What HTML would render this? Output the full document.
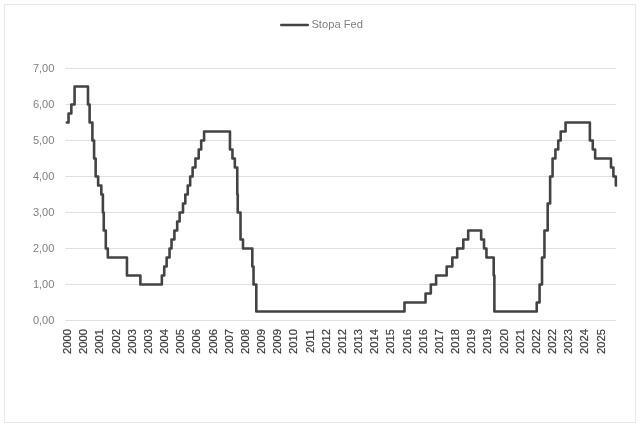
<!DOCTYPE html>
<html lang="pl"><head><meta charset="utf-8"><title>Stopa Fed</title>
<style>
html,body{margin:0;padding:0;background:#fff;}
body{width:640px;height:428px;overflow:hidden;}
svg{display:block;}
text{font-family:"Liberation Sans",sans-serif;}
.yl{font-size:10.4px;fill:#7f7f7f;text-anchor:end;}
.xl{font-size:11.5px;fill:#3c3c3c;stroke:#3c3c3c;stroke-width:0.2px;text-anchor:end;}
.lg{font-size:10.8px;fill:#7f7f7f;}
</style></head><body>
<svg width="640" height="428" viewBox="0 0 640 428">
<rect x="0" y="0" width="640" height="428" fill="#ffffff"/>
<rect x="4.5" y="4.5" width="631" height="418" fill="#ffffff" stroke="#e8e8e8" stroke-width="1"/>
<line x1="65.5" y1="68.5" x2="616" y2="68.5" stroke="#e0e0e0" stroke-width="1"/>
<line x1="65.5" y1="104.5" x2="616" y2="104.5" stroke="#e0e0e0" stroke-width="1"/>
<line x1="65.5" y1="140.5" x2="616" y2="140.5" stroke="#e0e0e0" stroke-width="1"/>
<line x1="65.5" y1="176.5" x2="616" y2="176.5" stroke="#e0e0e0" stroke-width="1"/>
<line x1="65.5" y1="212.5" x2="616" y2="212.5" stroke="#e0e0e0" stroke-width="1"/>
<line x1="65.5" y1="248.5" x2="616" y2="248.5" stroke="#e0e0e0" stroke-width="1"/>
<line x1="65.5" y1="284.5" x2="616" y2="284.5" stroke="#e0e0e0" stroke-width="1"/>
<line x1="65.5" y1="320.5" x2="616" y2="320.5" stroke="#e0e0e0" stroke-width="1"/>
<text class="yl" x="54.4" y="72.1" textLength="21.5" lengthAdjust="spacingAndGlyphs">7,00</text>
<text class="yl" x="54.4" y="108.1" textLength="21.5" lengthAdjust="spacingAndGlyphs">6,00</text>
<text class="yl" x="54.4" y="144.1" textLength="21.5" lengthAdjust="spacingAndGlyphs">5,00</text>
<text class="yl" x="54.4" y="180.1" textLength="21.5" lengthAdjust="spacingAndGlyphs">4,00</text>
<text class="yl" x="54.4" y="216.1" textLength="21.5" lengthAdjust="spacingAndGlyphs">3,00</text>
<text class="yl" x="54.4" y="252.1" textLength="21.5" lengthAdjust="spacingAndGlyphs">2,00</text>
<text class="yl" x="54.4" y="288.1" textLength="21.5" lengthAdjust="spacingAndGlyphs">1,00</text>
<text class="yl" x="54.4" y="324.1" textLength="21.5" lengthAdjust="spacingAndGlyphs">0,00</text>
<text class="xl" transform="translate(71.00,329) rotate(-90) scale(0.974,1)">2000</text>
<text class="xl" transform="translate(87.17,329) rotate(-90) scale(0.974,1)">2000</text>
<text class="xl" transform="translate(103.34,329) rotate(-90) scale(0.974,1)">2001</text>
<text class="xl" transform="translate(119.51,329) rotate(-90) scale(0.974,1)">2002</text>
<text class="xl" transform="translate(135.68,329) rotate(-90) scale(0.974,1)">2003</text>
<text class="xl" transform="translate(151.85,329) rotate(-90) scale(0.974,1)">2003</text>
<text class="xl" transform="translate(168.02,329) rotate(-90) scale(0.974,1)">2004</text>
<text class="xl" transform="translate(184.19,329) rotate(-90) scale(0.974,1)">2005</text>
<text class="xl" transform="translate(200.36,329) rotate(-90) scale(0.974,1)">2006</text>
<text class="xl" transform="translate(216.53,329) rotate(-90) scale(0.974,1)">2006</text>
<text class="xl" transform="translate(232.70,329) rotate(-90) scale(0.974,1)">2007</text>
<text class="xl" transform="translate(248.87,329) rotate(-90) scale(0.974,1)">2008</text>
<text class="xl" transform="translate(265.04,329) rotate(-90) scale(0.974,1)">2009</text>
<text class="xl" transform="translate(281.21,329) rotate(-90) scale(0.974,1)">2009</text>
<text class="xl" transform="translate(297.38,329) rotate(-90) scale(0.974,1)">2010</text>
<text class="xl" transform="translate(313.55,329) rotate(-90) scale(0.974,1)">2011</text>
<text class="xl" transform="translate(329.72,329) rotate(-90) scale(0.974,1)">2012</text>
<text class="xl" transform="translate(345.89,329) rotate(-90) scale(0.974,1)">2012</text>
<text class="xl" transform="translate(362.06,329) rotate(-90) scale(0.974,1)">2013</text>
<text class="xl" transform="translate(378.23,329) rotate(-90) scale(0.974,1)">2014</text>
<text class="xl" transform="translate(394.40,329) rotate(-90) scale(0.974,1)">2015</text>
<text class="xl" transform="translate(410.57,329) rotate(-90) scale(0.974,1)">2016</text>
<text class="xl" transform="translate(426.74,329) rotate(-90) scale(0.974,1)">2016</text>
<text class="xl" transform="translate(442.91,329) rotate(-90) scale(0.974,1)">2017</text>
<text class="xl" transform="translate(459.08,329) rotate(-90) scale(0.974,1)">2018</text>
<text class="xl" transform="translate(475.25,329) rotate(-90) scale(0.974,1)">2019</text>
<text class="xl" transform="translate(491.42,329) rotate(-90) scale(0.974,1)">2019</text>
<text class="xl" transform="translate(507.59,329) rotate(-90) scale(0.974,1)">2020</text>
<text class="xl" transform="translate(523.76,329) rotate(-90) scale(0.974,1)">2021</text>
<text class="xl" transform="translate(539.93,329) rotate(-90) scale(0.974,1)">2022</text>
<text class="xl" transform="translate(556.10,329) rotate(-90) scale(0.974,1)">2022</text>
<text class="xl" transform="translate(572.27,329) rotate(-90) scale(0.974,1)">2023</text>
<text class="xl" transform="translate(588.44,329) rotate(-90) scale(0.974,1)">2024</text>
<text class="xl" transform="translate(604.61,329) rotate(-90) scale(0.974,1)">2025</text>
<path d="M66.82,122.50 L68.55,122.50 L68.55,113.50 L71.33,113.50 L71.33,104.50 L74.57,104.50 L74.57,86.50 L87.99,86.50 L87.99,104.50 L89.61,104.50 L89.61,122.50 L92.39,122.50 L92.39,140.50 L94.08,140.50 L94.08,158.50 L95.64,158.50 L95.64,176.50 L98.14,176.50 L98.14,185.50 L101.33,185.50 L101.33,194.50 L102.89,194.50 L102.89,212.50 L103.76,212.50 L103.76,230.50 L105.79,230.50 L105.79,248.50 L107.82,248.50 L107.82,257.50 L126.96,257.50 L126.96,275.50 L140.36,275.50 L140.36,284.50 L161.85,284.50 L161.85,275.50 L164.22,275.50 L164.22,266.50 L166.65,266.50 L166.65,257.50 L169.54,257.50 L169.54,248.50 L171.51,248.50 L171.51,239.50 L174.41,239.50 L174.41,230.50 L177.19,230.50 L177.19,221.50 L179.63,221.50 L179.63,212.50 L182.99,212.50 L182.99,203.50 L185.31,203.50 L185.31,194.50 L187.75,194.50 L187.75,185.50 L190.18,185.50 L190.18,176.50 L192.62,176.50 L192.62,167.50 L195.46,167.50 L195.46,158.50 L198.71,158.50 L198.71,149.50 L201.20,149.50 L201.20,140.50 L204.10,140.50 L204.10,131.50 L229.97,131.50 L229.97,149.50 L232.46,149.50 L232.46,158.50 L234.84,158.50 L234.84,167.50 L237.27,167.50 L237.27,194.50 L237.74,194.50 L237.74,212.50 L240.51,212.50 L240.51,239.50 L243.00,239.50 L243.00,248.50 L252.31,248.50 L252.31,266.50 L253.53,266.50 L253.53,284.50 L256.30,284.50 L256.30,311.50 L404.49,311.50 L404.49,302.50 L425.55,302.50 L425.55,293.50 L430.82,293.50 L430.82,284.50 L436.10,284.50 L436.10,275.50 L446.66,275.50 L446.66,266.50 L452.34,266.50 L452.34,257.50 L457.21,257.50 L457.21,248.50 L463.30,248.50 L463.30,239.50 L468.18,239.50 L468.18,230.50 L481.17,230.50 L481.17,239.50 L484.01,239.50 L484.01,248.50 L486.45,248.50 L486.45,257.50 L493.69,257.50 L493.69,275.50 L494.38,275.50 L494.38,311.50 L536.73,311.50 L536.73,302.50 L539.57,302.50 L539.57,284.50 L542.01,284.50 L542.01,257.50 L544.45,257.50 L544.45,230.50 L547.69,230.50 L547.69,203.50 L550.13,203.50 L550.13,176.50 L552.57,176.50 L552.57,158.50 L555.41,158.50 L555.41,149.50 L558.25,149.50 L558.25,140.50 L560.69,140.50 L560.69,131.50 L565.56,131.50 L565.56,122.50 L589.88,122.50 L589.88,140.50 L592.77,140.50 L592.77,149.50 L595.14,149.50 L595.14,158.50 L610.97,158.50 L610.97,167.50 L613.41,167.50 L613.41,176.50 L615.84,176.50 L615.84,185.50 L616.00,185.50" fill="none" stroke="#434343" stroke-width="2.6" stroke-linejoin="round" stroke-linecap="round"/>
<line x1="281.3" y1="25" x2="307.7" y2="25" stroke="#434343" stroke-width="2.6" stroke-linecap="round"/>
<text class="lg" x="311.4" y="28.1" textLength="51.6" lengthAdjust="spacingAndGlyphs">Stopa Fed</text>
</svg>
</body></html>
